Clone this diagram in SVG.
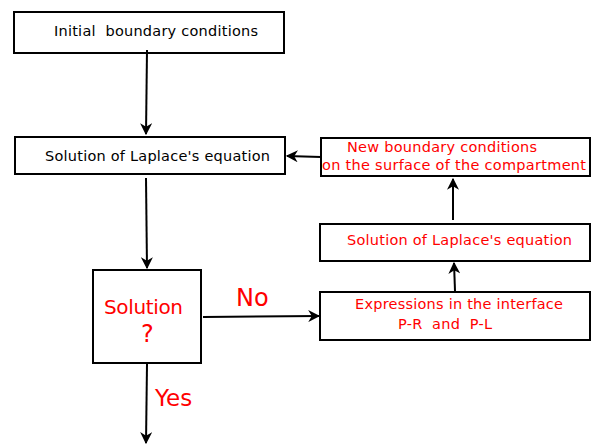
<svg xmlns="http://www.w3.org/2000/svg" width="596" height="444" viewBox="0 0 596 444">
<style>
.box{fill:#fff;stroke:#000;stroke-width:2}
.t{font-family:"DejaVu Sans",sans-serif;font-size:14.5px;white-space:pre}
.k{fill:#000}
.r{fill:#f00}
.c{stroke:#000;stroke-width:2;fill:none;marker-end:url(#ah)}
</style>
<defs>
<marker id="ah" viewBox="0 0 10 10" refX="9" refY="5" markerWidth="6" markerHeight="6" markerUnits="strokeWidth" orient="auto">
<path d="M0,0 L10,5 L0,10 L3,5 Z" fill="#000"/>
</marker>
</defs>
<rect width="596" height="444" fill="#fff"/>
<g id="n1"><rect class="box" x="14" y="12" width="270" height="41"/><text class="t k" x="54" y="36" textLength="204" xml:space="preserve">Initial  boundary conditions</text></g>
<g id="n2"><rect class="box" x="15" y="137" width="270" height="37"/><text class="t k" x="45" y="161" textLength="225">Solution of Laplace's equation</text></g>
<g id="n3"><rect class="box" x="93" y="270" width="108" height="93"/><text class="t r" x="104" y="314" style="font-size:20px" textLength="79">Solution</text><text class="t r" x="141" y="342" style="font-size:24px">?</text></g>
<g id="n4"><rect class="box" x="321" y="138" width="269" height="38"/><text class="t r" x="347" y="152" textLength="190">New boundary conditions</text><text class="t r" x="322" y="170" textLength="264">on the surface of the compartment</text></g>
<g id="n5"><rect class="box" x="320" y="224" width="270" height="37"/><text class="t r" x="347" y="245" textLength="225">Solution of Laplace's equation</text></g>
<g id="n6"><rect class="box" x="320" y="292" width="270" height="48"/><text class="t r" x="355" y="309" textLength="208">Expressions in the interface</text><text class="t r" x="398" y="329" textLength="94" xml:space="preserve">P-R  and  P-L</text></g>
<g id="labels"><text class="t r" x="236" y="306" style="font-size:24px">No</text><text class="t r" x="155" y="406" style="font-size:23px">Yes</text></g>
<g id="connectors">
<path class="c" d="M147,50 L146,134"/>
<path class="c" d="M146,178 L147,268"/>
<path class="c" d="M203,317 L319,316"/>
<path class="c" d="M455,291 L454,263"/>
<path class="c" d="M453,220 L453,179"/>
<path class="c" d="M321,157 L287,156"/>
<path class="c" d="M147,364 L146,443"/>
</g>
</svg>
